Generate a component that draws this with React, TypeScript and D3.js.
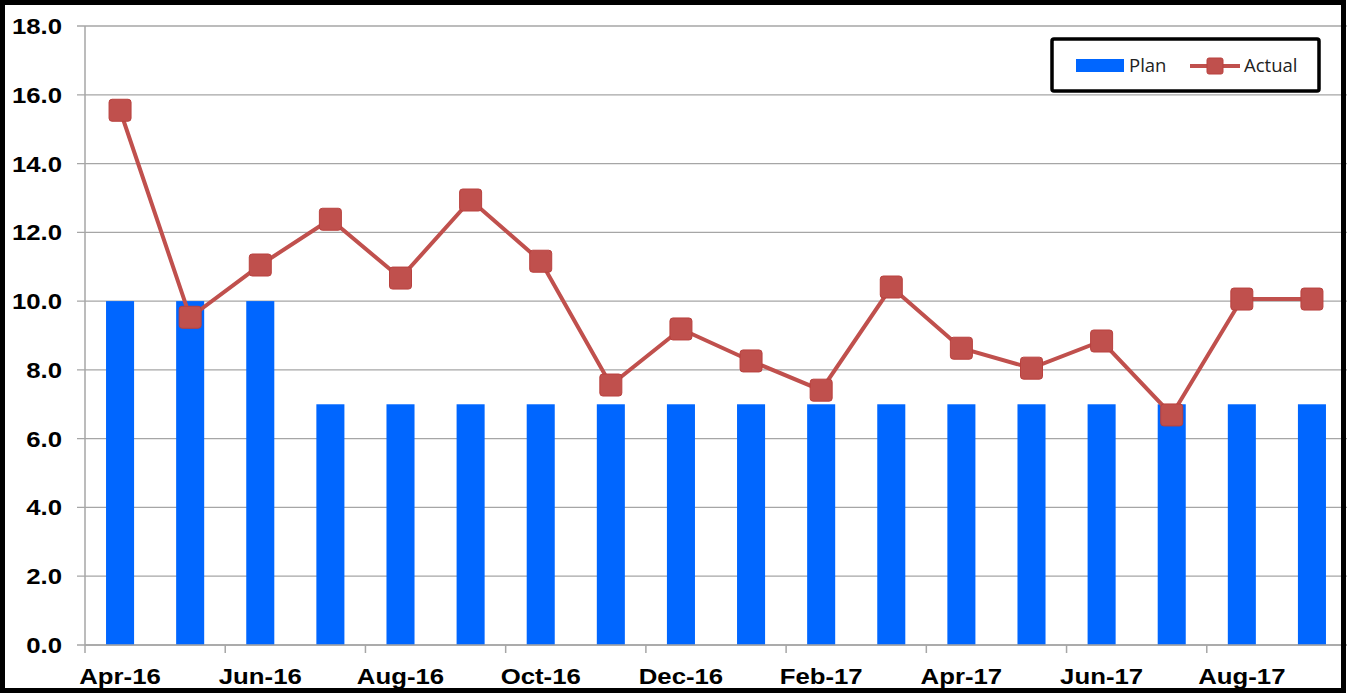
import React, { useEffect, useRef } from 'react';
import * as d3 from 'd3';

const months = [
  'Apr-16', 'May-16', 'Jun-16', 'Jul-16', 'Aug-16', 'Sep-16', 'Oct-16', 'Nov-16', 'Dec-16',
  'Jan-17', 'Feb-17', 'Mar-17', 'Apr-17', 'May-17', 'Jun-17', 'Jul-17', 'Aug-17', 'Sep-17',
];
const plan = [10, 10, 10, 7, 7, 7, 7, 7, 7, 7, 7, 7, 7, 7, 7, 7, 7, 7];
const actual = [15.55, 9.53, 11.05, 12.38, 10.67, 12.94, 11.16, 7.56, 9.19, 8.26, 7.41, 10.41, 8.63, 8.05, 8.84, 6.69, 10.06, 10.06];
const yTicks = [0, 2, 4, 6, 8, 10, 12, 14, 16, 18];

const W = 1348, H = 694;
const margin = { top: 26, right: 1, bottom: 49, left: 85 };

export default function App() {
  const ref = useRef<SVGSVGElement>(null);

  useEffect(() => {
    const svg = d3.select(ref.current);
    svg.selectAll('*').remove();

    const innerW = W - margin.left - margin.right;
    const innerH = H - margin.top - margin.bottom;

    const x = d3.scaleBand<string>().domain(months).range([0, innerW]).paddingInner(0).paddingOuter(0);
    const y = d3.scaleLinear().domain([0, 18]).range([innerH, 0]);
    const font = '"Liberation Sans", Arial, sans-serif';

    svg.append('rect').attr('width', W).attr('height', H).attr('fill', '#fff');

    const g = svg.append('g').attr('transform', `translate(${margin.left},${margin.top})`);

    // gridlines + y labels
    g.append('g')
      .selectAll('line')
      .data(yTicks)
      .enter()
      .append('line')
      .attr('x1', -8)
      .attr('x2', innerW)
      .attr('y1', d => y(d))
      .attr('y2', d => y(d))
      .attr('stroke', '#a6a6a6')
      .attr('stroke-width', 1.3);

    g.append('g')
      .selectAll('text')
      .data(yTicks)
      .enter()
      .append('text')
      .attr('transform', d => `translate(-23,${y(d)}) scale(1.12,1)`)
      .attr('dy', '0.35em')
      .attr('text-anchor', 'end')
      .attr('font-family', font)
      .attr('font-weight', 'bold')
      .attr('font-size', 23)
      .attr('fill', '#000')
      .text(d => d.toFixed(1));

    // bars
    const bw = x.bandwidth() * 0.4;
    g.append('g')
      .selectAll('rect')
      .data(plan)
      .enter()
      .append('rect')
      .attr('fill', '#0066ff')
      .attr('x', (d, i) => x(months[i])! + (x.bandwidth() - bw) / 2)
      .attr('width', bw)
      .attr('y', d => y(d))
      .attr('height', d => innerH - y(d));

    // axes
    g.append('line').attr('x1', 0).attr('x2', 0).attr('y1', 0).attr('y2', innerH)
      .attr('stroke', '#a6a6a6').attr('stroke-width', 1.5);
    g.append('line').attr('x1', 0).attr('x2', innerW).attr('y1', innerH).attr('y2', innerH)
      .attr('stroke', '#a6a6a6').attr('stroke-width', 1.5);

    const tickIdx = d3.range(0, months.length, 2);
    g.append('g')
      .selectAll('line')
      .data(tickIdx)
      .enter()
      .append('line')
      .attr('x1', i => x(months[i])!)
      .attr('x2', i => x(months[i])!)
      .attr('y1', innerH)
      .attr('y2', innerH + 8)
      .attr('stroke', '#a6a6a6')
      .attr('stroke-width', 1.5);

    g.append('g')
      .selectAll('text')
      .data(tickIdx)
      .enter()
      .append('text')
      .attr('transform', i => `translate(${x(months[i])! + x.bandwidth() / 2},${innerH + 39}) scale(1.12,1)`)
      .attr('text-anchor', 'middle')
      .attr('font-family', font)
      .attr('font-weight', 'bold')
      .attr('font-size', 23)
      .attr('fill', '#000')
      .text(i => months[i]);

    // actual line
    const cx = (i: number) => x(months[i])! + x.bandwidth() / 2;
    const line = d3.line<number>().x((d, i) => cx(i)).y(d => y(d));
    g.append('path')
      .datum(actual)
      .attr('d', line)
      .attr('fill', 'none')
      .attr('stroke', '#c0504d')
      .attr('stroke-width', 4);

    const ms = 22;
    g.append('g')
      .selectAll('rect')
      .data(actual)
      .enter()
      .append('rect')
      .attr('x', (d, i) => cx(i) - ms / 2)
      .attr('y', d => y(d) - ms / 2)
      .attr('width', ms)
      .attr('height', ms)
      .attr('rx', 3)
      .attr('fill', '#c0504d')
      .attr('stroke', '#b9413e')
      .attr('stroke-width', 1);

    // legend
    const lg = svg.append('g').attr('transform', 'translate(1052,39)');
    lg.append('rect').attr('width', 267).attr('height', 52)
      .attr('fill', '#fff').attr('stroke', '#000').attr('stroke-width', 3.5).attr('rx', 2);
    lg.append('rect').attr('x', 24).attr('y', 20).attr('width', 48).attr('height', 13).attr('fill', '#0066ff');
    lg.append('text').attr('x', 77).attr('y', 27).attr('dy', '0.35em')
      .attr('font-family', '"Open Sans", Calibri, sans-serif').attr('font-size', 18.5).attr('fill', '#222')
      .text('Plan');
    lg.append('line').attr('x1', 138).attr('x2', 188).attr('y1', 27).attr('y2', 27)
      .attr('stroke', '#c0504d').attr('stroke-width', 4);
    lg.append('rect').attr('x', 155).attr('y', 19).attr('width', 16).attr('height', 16).attr('rx', 2)
      .attr('fill', '#c0504d').attr('stroke', '#b9413e');
    lg.append('text').attr('x', 192).attr('y', 27).attr('dy', '0.35em')
      .attr('font-family', '"Open Sans", Calibri, sans-serif').attr('font-size', 18.5).attr('fill', '#222')
      .text('Actual');

    // outer frame
    svg.append('rect').attr('x', 2.5).attr('y', 2.5).attr('width', 1341).attr('height', 688)
      .attr('fill', 'none').attr('stroke', '#000').attr('stroke-width', 5);
  }, []);

  return (
    <div style={{ position: 'absolute', left: 0, top: 0 }}>
      <svg ref={ref} width={W} height={H} />
    </div>
  );
}
